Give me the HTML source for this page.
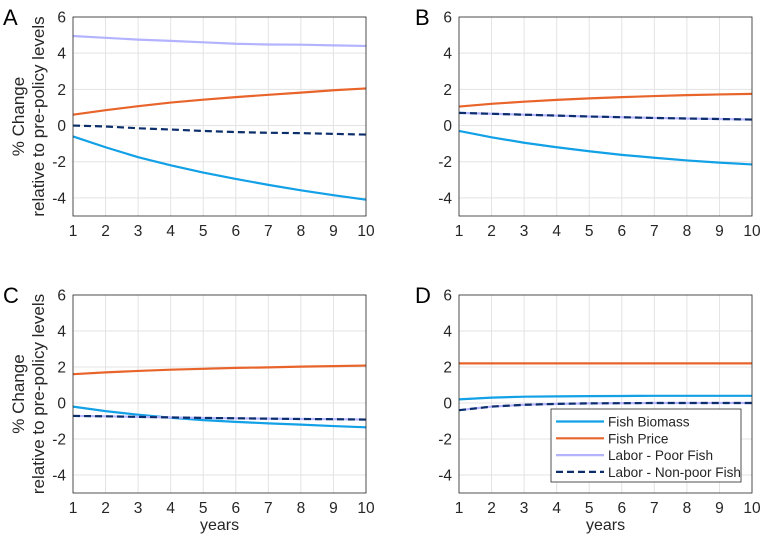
<!DOCTYPE html>
<html><head><meta charset="utf-8"><style>
body{margin:0;background:#fff}
svg{display:block;font-family:"Liberation Sans",sans-serif}
</style></head><body>
<svg id="fig" width="762" height="542"></svg>
<script>
const years=[1,2,3,4,5,6,7,8,9,10];
const yTicks=[-4,-2,0,2,4,6];
const xTicks=[1,2,3,4,5,6,7,8,9,10];
const seriesNames=["Fish Biomass","Fish Price","Labor - Poor Fish","Labor - Non-poor Fish"];
const aBiomass=[-0.6,-1.2,-1.75,-2.2,-2.6,-2.95,-3.28,-3.58,-3.85,-4.1];
const aPrice=[0.6,0.85,1.07,1.27,1.43,1.57,1.7,1.82,1.95,2.05];
const aPoor=[4.95,4.85,4.75,4.68,4.6,4.52,4.48,4.47,4.43,4.4];
const aNonpoor=[0,-0.05,-0.15,-0.22,-0.3,-0.36,-0.4,-0.42,-0.46,-0.5];
const bBiomass=[-0.3,-0.65,-0.95,-1.2,-1.42,-1.62,-1.78,-1.93,-2.05,-2.15];
const bPrice=[1.05,1.2,1.32,1.42,1.5,1.57,1.63,1.68,1.72,1.75];
const bPoor=[0.7,0.65,0.6,0.55,0.5,0.46,0.42,0.39,0.36,0.33];
const bNonpoor=[0.7,0.65,0.6,0.55,0.5,0.46,0.42,0.39,0.36,0.33];
const cBiomass=[-0.2,-0.45,-0.65,-0.82,-0.95,-1.05,-1.13,-1.2,-1.28,-1.35];
const cPrice=[1.6,1.7,1.78,1.85,1.9,1.95,1.98,2.02,2.05,2.08];
const cPoor=[-0.72,-0.74,-0.77,-0.8,-0.83,-0.85,-0.87,-0.89,-0.9,-0.92];
const cNonpoor=[-0.72,-0.74,-0.77,-0.8,-0.83,-0.85,-0.87,-0.89,-0.9,-0.92];
const dBiomass=[0.2,0.3,0.35,0.37,0.38,0.39,0.4,0.4,0.4,0.4];
const dPrice=[2.2,2.2,2.2,2.2,2.2,2.2,2.2,2.2,2.2,2.2];
const dPoor=[-0.4,-0.2,-0.1,-0.05,-0.02,-0.01,0,0,0,0];
const dNonpoor=[-0.4,-0.2,-0.1,-0.05,-0.02,-0.01,0,0,0,0];

const NS="http://www.w3.org/2000/svg";
const svg=document.getElementById('fig');
const styles=[{c:"#12a0e6",w:2.2,d:""},{c:"#e8642a",w:2.2,d:""},{c:"#b3b3ff",w:2.2,d:""},{c:"#0c2f6c",w:2.2,d:"7,4"}];
function mk(tag,at,parent){const e=document.createElementNS(NS,tag);for(const k in at)e.setAttribute(k,at[k]);(parent||svg).appendChild(e);return e;}
const panels=[
 {id:"a",label:"A",L:73,R:366,T:17,B:216,data:[aBiomass,aPrice,aPoor,aNonpoor],ylab:true,xlab:false,leg:false},
 {id:"b",label:"B",L:459,R:752,T:17,B:216,data:[bBiomass,bPrice,bPoor,bNonpoor],ylab:false,xlab:false,leg:false},
 {id:"c",label:"C",L:73,R:366,T:295,B:493,data:[cBiomass,cPrice,cPoor,cNonpoor],ylab:true,xlab:true,leg:false},
 {id:"d",label:"D",L:459,R:752,T:295,B:493,data:[dBiomass,dPrice,dPoor,dNonpoor],ylab:false,xlab:true,leg:true}];
panels.forEach(p=>{
 const g=mk('g',{});
 
 
 const xs=v=>p.L+(v-1)/9*(p.R-p.L);
 const ys=v=>p.T+(6-v)/11*(p.B-p.T);
 xTicks.forEach(t=>{const l=mk('line',{x1:xs(t),x2:xs(t),y1:p.T,y2:p.B,stroke:"#e3e3e3"},g);
  const tx=mk('text',{x:xs(t),y:p.B+20,'text-anchor':'middle','font-size':15.5,fill:'#262626'},g);tx.textContent=t;});
 yTicks.forEach(t=>{const l=mk('line',{x1:p.L,x2:p.R,y1:ys(t),y2:ys(t),stroke:"#e3e3e3"},g);
  const tx=mk('text',{x:p.L-7,y:ys(t)+5.5,'text-anchor':'end','font-size':15.5,fill:'#262626'},g);tx.textContent=t;});
 p.data.forEach((arr,i)=>{const s=styles[i];
  const pl=mk('polyline',{points:arr.map((v,j)=>xs(years[j])+','+ys(v)).join(' '),fill:'none',stroke:s.c,'stroke-width':s.w,'stroke-dasharray':s.d},g);
  
  });
 const box=mk('rect',{x:p.L,y:p.T,width:p.R-p.L,height:p.B-p.T,fill:'none',stroke:'#262626','stroke-width':0.8},g);
 
 const lb=mk('text',{x:p.L-70+(p.id==='b'||p.id==='d'?26:0),y:p.T+8,'font-size':22,fill:'#000'},g);lb.textContent=p.label;
 
 if(p.ylab){const cy=(p.T+p.B)/2;
  const t1=mk('text',{x:0,y:0,transform:`translate(24,${cy}) rotate(-90)`,'text-anchor':'middle','font-size':17,fill:'#262626'},g);t1.textContent='% Change';
  
  const t2=mk('text',{x:0,y:0,transform:`translate(44,${cy}) rotate(-90)`,'text-anchor':'middle','font-size':17,fill:'#262626'},g);t2.textContent='relative to pre-policy levels';
  }
 if(p.xlab){const t=mk('text',{x:(p.L+p.R)/2,y:p.B+37,'text-anchor':'middle','font-size':16,fill:'#262626'},g);t.textContent='years';
  }
 if(p.leg){const lg=mk('g',{},g);
  mk('rect',{x:551,y:409,width:190,height:73,fill:'#fff',stroke:'#262626','stroke-width':0.8},lg);
  seriesNames.forEach((n,i)=>{const yy=421.5+i*16.8;const s=styles[i];
   const e=mk('g',{},lg);
   mk('line',{x1:556,x2:604,y1:yy,y2:yy,stroke:s.c,'stroke-width':s.w,'stroke-dasharray':s.d},e);
   const t=mk('text',{x:608,y:yy+5,'font-size':13.6,fill:'#262626'},e);t.textContent=n;});}
});
</script>
</body></html>
